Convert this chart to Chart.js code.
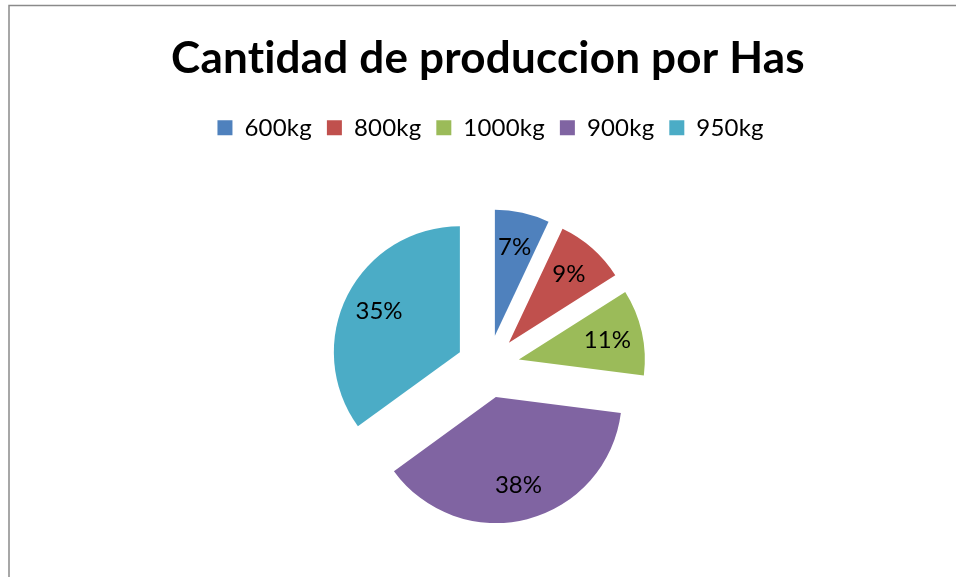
<!DOCTYPE html>
<html>
<head>
<meta charset="utf-8">
<script src="https://cdn.jsdelivr.net/npm/chart.js@4"></script>
<style>
  html, body { margin: 0; padding: 0; background: #fff; }
  #wrap { width: 956px; height: 577px; position: relative; }
</style>
</head>
<body>
<div id="wrap"><canvas id="myChart"></canvas></div>
<script>
const categories = ['600kg', '800kg', '1000kg', '900kg', '950kg'];
const shares = [7, 9, 11, 38, 35];
const sliceColors = ['#4F81BD', '#C0504D', '#9BBB59', '#8064A2', '#4BACC6'];

const explodeBy = 31.6;

// move every slice out along its middle angle, then let the arc draw itself
const explode = {
    id: 'explode',
    beforeDatasetDraw(chart, args) {
        const c = chart.ctx;
        args.meta.data.forEach(arc => {
            const mid = (arc.startAngle + arc.endAngle) / 2;
            c.save();
            c.translate(Math.cos(mid) * explodeBy, Math.sin(mid) * explodeBy);
            arc.draw(c);
            c.restore();
        });
        return false;
    }
};

const pctLabels = {
    id: 'pctLabels',
    afterDatasetsDraw(chart) {
        const c = chart.ctx;
        const meta = chart.getDatasetMeta(0);
        const total = shares.reduce((a, b) => a + b, 0);
        c.save();
        c.font = '24px Lato';
        c.fillStyle = '#000';
        c.textAlign = 'center';
        c.textBaseline = 'middle';
        meta.data.forEach((arc, i) => {
            const mid = (arc.startAngle + arc.endAngle) / 2;
            const dist = explodeBy + arc.outerRadius * 0.72;
            c.fillText(Math.round(shares[i] / total * 100) + '%',
                arc.x + Math.cos(mid) * dist, arc.y + Math.sin(mid) * dist);
        });
        c.restore();
    }
};

// frame line, and a hair of letter spacing so the title has no "ti" ligature
const frame = {
    id: 'frame',
    beforeDraw(chart) {
        const c = chart.ctx;
        c.save();
        c.strokeStyle = '#8a8a8a';
        c.lineWidth = 1.5;
        c.beginPath();
        c.moveTo(9, chart.height);
        c.lineTo(9, 5.5);
        c.lineTo(chart.width, 5.5);
        c.stroke();
        c.restore();
        if ('letterSpacing' in c) c.letterSpacing = '0.2px';
    },
    beforeDatasetsDraw(chart) {
        if ('letterSpacing' in chart.ctx) chart.ctx.letterSpacing = '0px';
    }
};

new Chart(document.getElementById('myChart'), {
    type: 'pie',
    data: {
        labels: categories,
        datasets: [{
            data: shares,
            backgroundColor: sliceColors,
            borderWidth: 0
        }]
    },
    options: {
        responsive: true,
        maintainAspectRatio: false,
        animation: false,
        radius: 126,
        layout: { padding: { left: 20, right: 0, top: 0, bottom: 0 } },
        plugins: {
            title: {
                display: true,
                text: 'Cantidad de produccion por Has',
                color: '#000',
                font: { family: 'Lato', size: 44, weight: 'bold' },
                padding: { top: 32, bottom: 16 }
            },
            legend: {
                position: 'top',
                labels: {
                    color: '#000',
                    font: { family: 'Lato', size: 24 },
                    boxWidth: 15,
                    boxHeight: 15,
                    padding: 15
                }
            },
            // empty spacer between legend and pie
            subtitle: {
                display: true,
                text: '',
                weight: 100,
                font: { size: 1 },
                padding: { top: 0, bottom: 5 }
            },
            tooltip: { enabled: false }
        }
    },
    plugins: [frame, explode, pctLabels]
});
</script>
</body>
</html>
